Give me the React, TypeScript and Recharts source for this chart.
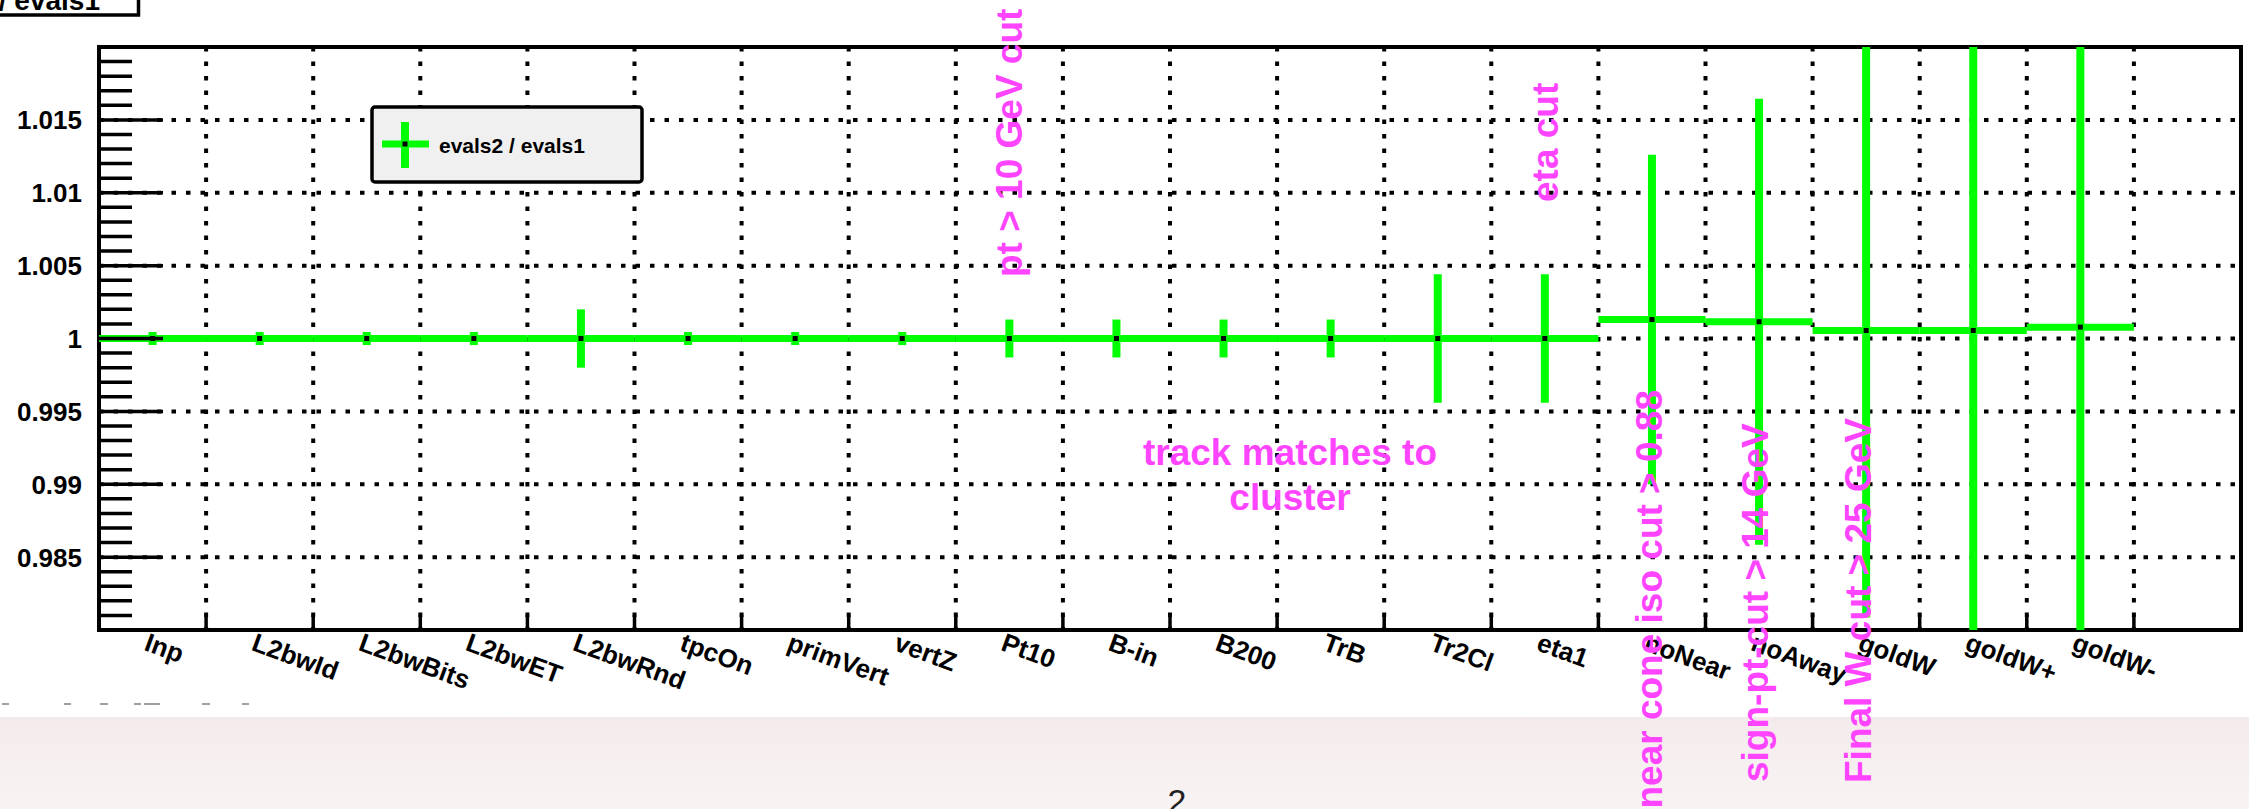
import React from 'react';
import { ComposedChart, Scatter, ErrorBar, XAxis, YAxis, CartesianGrid, ReferenceArea } from 'recharts';

const categories = [
    'Inp', 'L2bwId', 'L2bwBits', 'L2bwET', 'L2bwRnd', 'tpcOn', 'primVert', 'vertZ', 'Pt10', 'B-in',
    'B200', 'TrB', 'Tr2Cl', 'eta1', 'noNear', 'noAway', 'goldW', 'goldW+', 'goldW-',
];
const ratioValues = [
    1, 1, 1, 1, 1, 1, 1, 1, 1, 1,
    1, 1, 1, 1, 1.0013, 1.00115, 1.00055, 1.00055, 1.00078,
];
const ratioErrors = [
    0.00045, 0.00045, 0.00045, 0.00045, 0.002, 0.00045, 0.00045, 0.00045, 0.0013, 0.0013,
    0.0013, 0.0013, 0.0044, 0.0044, 0.0113, 0.0153, 0.0197, 0.025, 0.025,
];
const binEdges = [1, 2, 3, 4, 5, 6, 7, 8, 9, 10, 11, 12, 13, 14, 15, 16, 17, 18, 19];
const yMajorTicks = [0.985, 0.99, 0.995, 1, 1.005, 1.01, 1.015];
const yMinorTicks = [
    0.981, 0.982, 0.983, 0.984, 0.986, 0.987, 0.988, 0.989, 0.991, 0.992, 0.993, 0.994,
    0.996, 0.997, 0.998, 0.999, 1.001, 1.002, 1.003, 1.004, 1.006, 1.007, 1.008, 1.009,
    1.011, 1.012, 1.013, 1.014, 1.016, 1.017, 1.018, 1.019,
];

const W = 2249;
const H = 809;
const FONT = '"Liberation Sans", Arial, Helvetica, sans-serif';
const GREEN = '#00ff00';
const MAGENTA = '#ff44ff';
// plot frame in page pixels (margins of the chart below)
const PLOT = { left: 99, top: 47, right: 2241, bottom: 630 };

const rows = categories.map((name, i) => ({
    name,
    x: i + 0.5,
    y: ratioValues[i],
    ex: 0.5,
    ey: ratioErrors[i],
}));
const xTicks = [...categories.map((_, i) => i + 0.5), ...binEdges].sort((a, b) => a - b);
const yTicks = [...yMinorTicks, ...yMajorTicks].sort((a, b) => a - b);

const XTick = (props: any) => {
    const { x, y, payload } = props;
    const v = payload.value;
    if (Number.isInteger(v)) {
        return <line x1={x} x2={x} y1={y} y2={y - 15} stroke="#000" strokeWidth={3.5} />;
    }
    return (
        <text
            transform={`translate(${x - 3},${y + 2}) rotate(20)`}
            dy={19}
            fontFamily={FONT}
            fontWeight="bold"
            fontSize={26}
            fill="#000"
        >
            {categories[Math.floor(v)]}
        </text>
    );
};

const YTick = (props: any) => {
    const { x, y, payload } = props;
    const major = yMajorTicks.includes(payload.value);
    return (
        <g>
            <line x1={x} x2={x + (major ? 64 : 33)} y1={y} y2={y} stroke="#000" strokeWidth={3.5} />
            {major && (
                <text x={x - 17} y={y} dy={9.5} textAnchor="end" fontFamily={FONT} fontWeight="bold" fontSize={26} fill="#000">
                    {String(payload.value)}
                </text>
            )}
        </g>
    );
};

const Marker = (props: any) => (
    <rect x={props.cx - 2.5} y={props.cy - 2.5} width={5} height={5} fill="#000" />
);

const vText = (label: string, x: number, y: number, anchor: 'start' | 'end' = 'start') => (
    <text
        transform={`translate(${x},${y}) rotate(-90)`}
        textAnchor={anchor}
        fontFamily={FONT}
        fontWeight="bold"
        fontSize={37}
        fill={MAGENTA}
    >
        {label}
    </text>
);

const App: React.FC = () => {
    return (
        <div style={{ position: 'absolute', left: 0, top: 0, width: W, height: H, overflow: 'hidden', background: '#fff' }}>
            {/* pink strip at the bottom of the page */}
            <div
                style={{
                    position: 'absolute', left: 0, top: 717, width: W, height: H - 717,
                    background: 'linear-gradient(#f4eaeb, #f8f4f4)',
                }}
            />
            <svg width={0} height={0} style={{ position: 'absolute' }}>
                <defs>
                    <clipPath id="plot-clip">
                        <rect x={PLOT.left} y={PLOT.top} width={PLOT.right - PLOT.left} height={PLOT.bottom - PLOT.top} />
                    </clipPath>
                </defs>
            </svg>
            <div style={{ position: 'absolute', left: 0, top: 0 }}>
                <ComposedChart
                    width={W}
                    height={H}
                    data={rows}
                    margin={{ top: PLOT.top, right: W - PLOT.right, bottom: 0, left: 0 }}
                >
                    <CartesianGrid
                        horizontalValues={yMajorTicks}
                        verticalValues={binEdges}
                        stroke="#000"
                        strokeWidth={4}
                        strokeDasharray="4.5 10"
                    />
                    <XAxis
                        type="number"
                        dataKey="x"
                        domain={[0, 20]}
                        allowDataOverflow
                        ticks={xTicks}
                        interval={0}
                        tick={XTick}
                        tickLine={false}
                        axisLine={false}
                        tickSize={0}
                        tickMargin={0}
                        height={H - PLOT.bottom}
                    />
                    <YAxis
                        type="number"
                        dataKey="y"
                        domain={[0.98, 1.02]}
                        allowDataOverflow
                        ticks={yTicks}
                        interval={0}
                        tick={YTick}
                        tickLine={false}
                        axisLine={false}
                        tickSize={0}
                        tickMargin={0}
                        width={PLOT.left}
                    />
                    <Scatter data={rows} dataKey="y" shape={Marker} isAnimationActive={false}>
                        <ErrorBar
                            dataKey="ex"
                            direction="x"
                            width={0}
                            stroke={GREEN}
                            strokeWidth={7}
                            clipPath="url(#plot-clip)"
                            isAnimationActive={false}
                        />
                        <ErrorBar
                            dataKey="ey"
                            direction="y"
                            width={0}
                            stroke={GREEN}
                            strokeWidth={8}
                            clipPath="url(#plot-clip)"
                            isAnimationActive={false}
                        />
                    </Scatter>
                    <ReferenceArea x1={0} x2={20} y1={0.98} y2={1.02} fill="none" stroke="#000" strokeWidth={4} ifOverflow="visible" />
                </ComposedChart>
            </div>
            <svg width={W} height={H} style={{ position: 'absolute', left: 0, top: 0, pointerEvents: 'none' }}>
                {/* title box, cut off by the page edge */}
                <rect x={-50} y={-50} width={188.5} height={65} fill="#fff" stroke="#000" strokeWidth={3.5} />
                <text x={100} y={10} textAnchor="end" fontFamily={FONT} fontWeight="bold" fontSize={28} fill="#000">
                    evals2 / evals1
                </text>

                {/* legend */}
                <rect x={372} y={107} width={270} height={75} rx={3} fill="#f0f0f0" stroke="#000" strokeWidth={3.5} />
                <line x1={382} x2={429} y1={144} y2={144} stroke={GREEN} strokeWidth={7} />
                <line x1={405} x2={405} y1={122} y2={168} stroke={GREEN} strokeWidth={8} />
                <rect x={402.5} y={141.5} width={5} height={5} fill="#000" />
                <text x={439} y={153} fontFamily={FONT} fontWeight="bold" fontSize={21} fill="#000">
                    evals2 / evals1
                </text>

                {/* cut annotations */}
                {vText('pt > 10 GeV cut', 1022, 277)}
                {vText('eta cut', 1558, 202)}
                {vText('near cone iso cut > 0.88', 1662, 390, 'end')}
                {vText('sign-pt-cut > 14 GeV', 1768, 782)}
                {vText('Final W cut > 25 GeV', 1871, 783)}
                <text x={1290} y={465} textAnchor="middle" fontFamily={FONT} fontWeight="bold" fontSize={37} fill={MAGENTA}>
                    track matches to
                </text>
                <text x={1290} y={510} textAnchor="middle" fontFamily={FONT} fontWeight="bold" fontSize={37} fill={MAGENTA}>
                    cluster
                </text>

                {/* faint dashes left from the page below */}
                <g fill="#a0a0a0">
                    <rect x={2} y={703} width={7} height={2} />
                    <rect x={64} y={703} width={7} height={2} />
                    <rect x={100} y={703} width={8} height={2} />
                    <rect x={134} y={703} width={7} height={2} />
                    <rect x={144} y={703} width={16} height={2} />
                    <rect x={202} y={703} width={8} height={2} />
                    <rect x={242} y={703} width={7} height={2} />
                </g>

                {/* page number */}
                <text x={1177} y={813} textAnchor="middle" fontFamily={FONT} fontSize={34} fill="#222">
                    2
                </text>
            </svg>
        </div>
    );
};

export default App;
